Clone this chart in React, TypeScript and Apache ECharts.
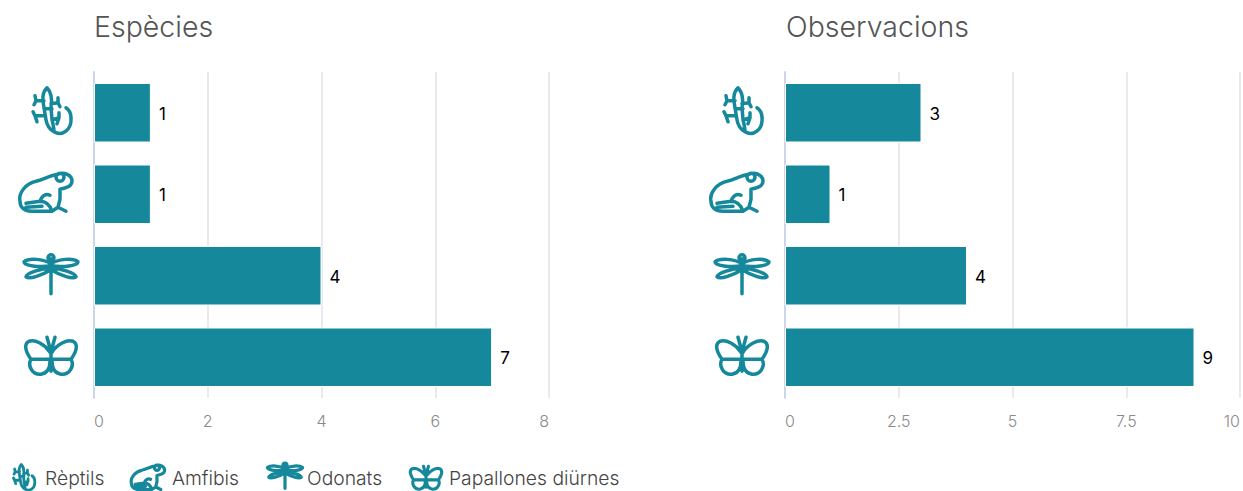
import React, { useEffect, useRef } from "react";
import * as echarts from "echarts";

const categories = ["Rèptils", "Amfibis", "Odonats", "Papallones diürnes"];
const especies = [1, 1, 4, 7];
const observacions = [3, 1, 4, 9];
const titles = ["Espècies", "Observacions"];
const iconNames = ["lizard", "frog", "dragonfly", "butterfly"];

const FONT = "Inter, 'Noto Sans', sans-serif";
const TEAL = "#15899b";

const lizard =
  "M-3,-24 C-9,-18 -7,-10 -6,-4 L-4,8 C-3,14 0,18 4,20 " +
  "M-3,-24 C3,-18 2,-10 1,-4 L2,8 C3,12 4,16 4,20 " +
  "M4,20 C12,25 22,18 21,6 C21,2 19,-2 16,-4 " +
  "M-6,-11 L-14,-11 L-15,-16 M-14,-11 L-16,-7 " +
  "M-5,4 L-15,4 L-17,0 M-15,4 L-13,10 " +
  "M1,-8 L8,-9 L8,-14 M8,-9 L10,-5 " +
  "M3,8 L9,6 L9,1 M9,6 L7,12 M-6,-3 L2,-3";
const frog =
  "M-26,8 C-28,0 -20,-10 -10,-12 C-2,-14 4,-18 12,-19 C18,-22 26,-18 26,-12 C26,-8 22,-6 18,-5 L14,-4 L14,6 L12,14 L20,18 " +
  "M12,14 L6,18 L-14,18 C-22,18 -26,14 -26,8 " +
  "M-20,10 L-6,8 C0,8 4,12 6,18 M-6,8 C-4,2 0,0 4,2 M-20,14 L-4,13 " +
  "M10,-16 a4,4 0 1 0 8,0 a4,4 0 1 0 -8,0";
const dragonfly =
  "M0,-16 L0,19 " +
  "M-3,-17 a3,3 0 1 0 6,0 a3,3 0 1 0 -6,0 " +
  "M0,-11 C-8,-16 -22,-17 -27,-13 C-27,-9 -12,-7 0,-9 " +
  "M0,-11 C8,-16 22,-17 27,-13 C27,-9 12,-7 0,-9 " +
  "M0,-7 C-10,-6 -24,-2 -25,2 C-22,5 -10,1 0,-5 " +
  "M0,-7 C10,-6 24,-2 25,2 C22,5 10,1 0,-5";
const butterfly =
  "M0,-7 L0,15 M-1,-8 L-4,-19 M1,-8 L4,-19 " +
  "M-1,-4 C-6,-12 -16,-17 -22,-15 C-28,-12 -25,-4 -20,3 L-1,3 " +
  "M1,-4 C6,-12 16,-17 22,-15 C28,-12 25,-4 20,3 L1,3 " +
  "M-20,3 C-24,10 -18,19 -10,18 C-4,17 -1,12 -1,5 " +
  "M20,3 C24,10 18,19 10,18 C4,17 1,12 1,5";

const paths = [lizard, frog, dragonfly, butterfly];
paths.forEach((d, i) => {
  echarts.graphic.registerShape(iconNames[i], echarts.graphic.extendPath(d, {}) as any);
});

const iconOffsets = [-44, -48, -43, -43];

const iconSeries = (axisIndex: number) => ({
  type: "custom",
  xAxisIndex: axisIndex,
  yAxisIndex: axisIndex,
  silent: true,
  clip: false,
  z: 5,
  data: categories.map((_, i) => [0, i]),
  renderItem: (_p: any, api: any) => {
    const idx = api.value(1);
    const pt = api.coord([0, idx]);
    return {
      type: iconNames[idx],
      x: pt[0] + iconOffsets[idx],
      y: pt[1] - 1,
      style: { fill: "none", stroke: TEAL, lineWidth: 3.5, lineCap: "round", lineJoin: "round" },
    };
  },
});

const barSeries = (axisIndex: number, values: number[]) => ({
  type: "bar",
  xAxisIndex: axisIndex,
  yAxisIndex: axisIndex,
  data: values,
  barCategoryGap: "27%",
  itemStyle: { color: TEAL, borderColor: "#ffffff", borderWidth: 1 },
  label: {
    show: true,
    position: "right",
    distance: 8,
    offset: [0, 1],
    color: "#000000",
    fontFamily: FONT,
    fontSize: 17,
    fontWeight: 400,
  },
});

const xAxis = (gridIndex: number, max: number, interval: number) => ({
  type: "value",
  gridIndex,
  min: 0,
  max,
  interval,
  axisLine: { show: false },
  axisTick: { show: false },
  splitLine: { show: true, lineStyle: { color: "#e9eaf0", width: 2 } },
  axisLabel: {
    color: "#8a8a8a",
    fontFamily: FONT,
    fontSize: 16,
    fontWeight: 300,
    margin: 15,
    alignMinLabel: "left",
    alignMaxLabel: "right",
  },
});

const yAxis = (gridIndex: number) => ({
  type: "category",
  gridIndex,
  inverse: true,
  data: categories,
  axisLine: { show: true, lineStyle: { color: "#ccd6eb", width: 2 } },
  axisTick: { show: false },
  axisLabel: { show: false },
  splitLine: { show: false },
});

const titleStyle = {
  color: "#555555",
  fontFamily: FONT,
  fontSize: 28.5,
  fontWeight: 300,
};

const legendIcons = [
  { x: 23, y: 478, s: 0.56, tx: 45 },
  { x: 148, y: 478, s: 0.64, tx: 172 },
  { x: 285, y: 476, s: 0.65, tx: 307 },
  { x: 426, y: 478, s: 0.62, tx: 449 },
];

export default function App() {
  const ref = useRef<HTMLDivElement>(null);
  useEffect(() => {
    const chart = echarts.init(ref.current!, undefined, { renderer: "svg" });
    chart.setOption({
      animation: false,
      title: [
        { text: titles[0], left: 94, top: 12, padding: 0, textStyle: titleStyle },
        { text: titles[1], left: 786, top: 12, padding: 0, textStyle: titleStyle },
      ],
      grid: [
        { left: 94, top: 72, width: 455, height: 326 },
        { left: 785, top: 72, width: 455, height: 326 },
      ],
      xAxis: [xAxis(0, 8, 2), xAxis(1, 10, 2.5)],
      yAxis: [yAxis(0), yAxis(1)],
      series: [
        barSeries(0, especies),
        barSeries(1, observacions),
        iconSeries(0),
        iconSeries(1),
      ],
      graphic: legendIcons.flatMap((l, i) => [
        {
          type: iconNames[i],
          x: l.x,
          y: l.y,
          scaleX: l.s,
          scaleY: l.s,
          silent: true,
          style: { fill: "none", stroke: TEAL, lineWidth: 5, lineCap: "round", lineJoin: "round" },
        },
        {
          type: "text",
          x: l.tx,
          y: 478,
          silent: true,
          style: {
            text: categories[i],
            fill: "#444444",
            font: `300 19.3px ${FONT}`,
            textVerticalAlign: "middle",
            verticalAlign: "middle",
          },
        },
      ]),
    });
    return () => chart.dispose();
  }, []);
  return (
    <div
      ref={ref}
      style={{ position: "absolute", left: 0, top: 0, width: 1243, height: 491 }}
    />
  );
}
